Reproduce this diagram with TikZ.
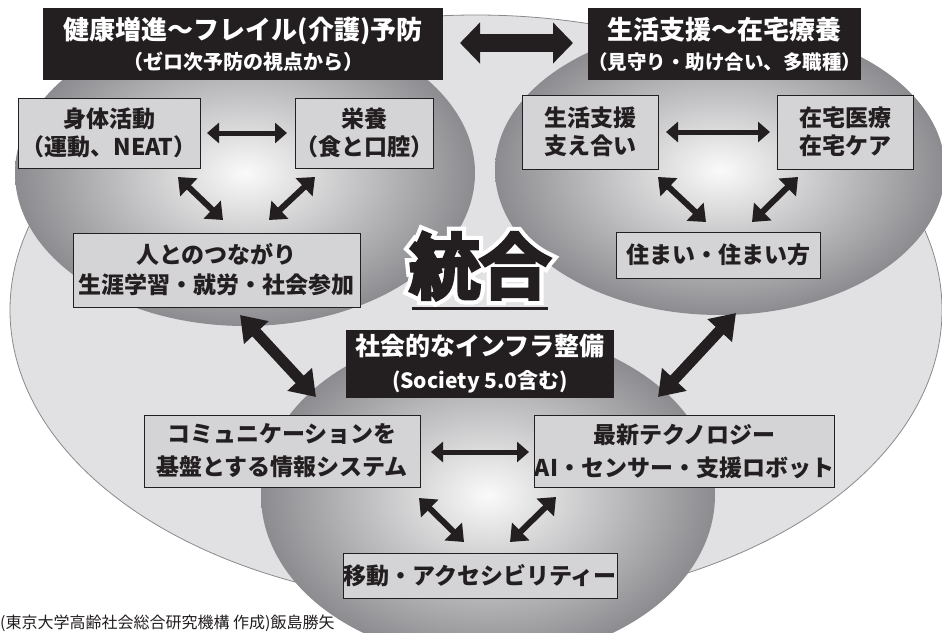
\documentclass[tikz,border=0pt]{standalone}
\usepackage{fontspec}
\setmainfont{Noto Sans CJK JP}
\newfontfamily\jpheavy{Noto Sans CJK JP}[FakeBold=8]
\newfontfamily\jphalo{Noto Sans CJK JP}[FakeBold=20]
\usetikzlibrary{arrows.meta}
\definecolor{bgray}{HTML}{E1E1E3}
\definecolor{edgegray}{HTML}{8A8A8E}
\definecolor{boxgray}{HTML}{D4D4D6}
\definecolor{ink}{HTML}{231F20}
\definecolor{shadeout}{HTML}{8C8C90}
\definecolor{shadein}{HTML}{FAFAFA}
\begin{document}
\begin{tikzpicture}[x=1pt,y=-1pt,
  box/.style={draw=ink, line width=1pt, fill=boxgray, inner sep=0pt, align=center, text=ink,
    font=\bfseries\fontsize{23}{28}\selectfont},
  hdr/.style={fill=ink, text=white, inner sep=0pt, align=center},
  arrS/.style={draw=ink, line width=5pt, {Triangle[length=12pt,width=20pt]}-{Triangle[length=12pt,width=20pt]}},
  arrM/.style={draw=ink, line width=6pt, {Triangle[length=15pt,width=24pt]}-{Triangle[length=15pt,width=24pt]}},
  arrL/.style={draw=ink, line width=11pt, {Triangle[length=24pt,width=32pt]}-{Triangle[length=24pt,width=32pt]}},
  arrH/.style={draw=ink, line width=18pt, {Triangle[length=20pt,width=40pt]}-{Triangle[length=20pt,width=40pt]}},
  blob/.style={inner color=shadein, outer color=shadeout}
]
\useasboundingbox (0,0) rectangle (942,632);
\fill[white] (0,0) rectangle (942,632);

% background shapes
\filldraw[fill=bgray, draw=edgegray, line width=0.8pt] (476,310) ellipse [x radius=466pt, y radius=295pt];
\shade[blob] (245,173) ellipse [x radius=230pt, y radius=153pt];
\shade[blob] (720,170) ellipse [x radius=225pt, y radius=145pt];
\shade[blob] (488,495) ellipse [x radius=227pt, y radius=165pt];

% headers
\node[hdr, minimum width=400pt, minimum height=72pt, font=\bfseries\fontsize{20}{30}\selectfont] (h1) at (243,44)
  {{\fontsize{26}{26}\selectfont 健康増進～フレイル(介護)予防}\\（ゼロ次予防の視点から）};
\node[hdr, minimum width=267pt, minimum height=72pt, font=\bfseries\fontsize{19.5}{30}\selectfont] (h2) at (724.5,44)
  {{\fontsize{26}{26}\selectfont 生活支援～在宅療養}\\（見守り・助け合い、多職種）};
\node[hdr, minimum width=268pt, minimum height=68pt, font=\bfseries\fontsize{21}{33}\selectfont] (h3) at (480,364)
  {{\fontsize{25}{25}\selectfont 社会的なインフラ整備}\\(Society 5.0含む)};

% boxes
\node[box, minimum width=182pt, minimum height=70pt] (b1) at (109,133) {身体活動\\（運動、NEAT）};
\node[box, minimum width=137pt, minimum height=70pt] (b2) at (364.5,133) {栄養\\（食と口腔）};
\node[box, minimum width=287pt, minimum height=74pt, font=\bfseries\fontsize{23}{30}\selectfont] (b3) at (216.5,270) {人とのつながり\\生涯学習・就労・社会参加};
\node[box, minimum width=136pt, minimum height=74pt] (b4) at (590,132) {生活支援\\支え合い};
\node[box, minimum width=136pt, minimum height=74pt] (b5) at (845,132) {在宅医療\\在宅ケア};
\node[box, minimum width=204pt, minimum height=46pt] (b6) at (718,255) {住まい・住まい方};
\node[box, minimum width=276pt, minimum height=72pt, font=\bfseries\fontsize{23}{33}\selectfont] (b7) at (282,451) {コミュニケーションを\\基盤とする情報システム};
\node[box, minimum width=289pt, minimum height=72pt, font=\bfseries\fontsize{23}{33}\selectfont] (b8) at (684.5,451) {最新テクノロジー\\AI・センサー・支援ロボット};
\node[box, minimum width=274pt, minimum height=45pt] (b9) at (480,575.5) {移動・アクセシビリティー};

% arrow end points
\coordinate (hA) at (460,43);   \coordinate (hB) at (573,43);
\coordinate (t1) at (207,133);  \coordinate (t2) at (287,133);
\coordinate (t3) at (178,177);  \coordinate (t4) at (223,220);
\coordinate (t5) at (315,177);  \coordinate (t6) at (269,220);
\coordinate (r1) at (666,132);  \coordinate (r2) at (770,132);
\coordinate (r3) at (658,177);  \coordinate (r4) at (706,222);
\coordinate (r5) at (798,177);  \coordinate (r6) at (752,222);
\coordinate (g1) at (240,315);  \coordinate (g2) at (316,397);
\coordinate (g3) at (736,313);  \coordinate (g4) at (658,397);
\coordinate (m1) at (431,452);  \coordinate (m2) at (529,452);
\coordinate (m3) at (419,498);  \coordinate (m4) at (464,542);
\coordinate (m5) at (556,497);  \coordinate (m6) at (510,542);

\draw[arrH] (hA) -- (hB);
\draw[arrS] (t1) -- (t2);
\draw[arrM] (t3) -- (t4);
\draw[arrM] (t5) -- (t6);
\draw[arrS] (r1) -- (r2);
\draw[arrM] (r3) -- (r4);
\draw[arrM] (r5) -- (r6);
\draw[arrL] (g1) -- (g2);
\draw[arrL] (g3) -- (g4);
\draw[arrS] (m1) -- (m2);
\draw[arrM] (m3) -- (m4);
\draw[arrM] (m5) -- (m6);

% central title with white halo
\node[text=white, inner sep=0pt, font=\jphalo\fontsize{70}{70}\selectfont] (tgw) at (480,266) {統合};
\node[text=ink, inner sep=0pt, font=\jpheavy\fontsize{70}{70}\selectfont] (tg) at (480,266) {統合};
\draw[ink, line width=3.5pt] (412,308.5) -- (548,308.5);

% caption
\node[anchor=south west, inner sep=0pt, text=ink, font=\fontsize{16}{16}\selectfont] (cap) at (0,632)
  {(東京大学高齢社会総合研究機構 作成)飯島勝矢};
\end{tikzpicture}
\end{document}
